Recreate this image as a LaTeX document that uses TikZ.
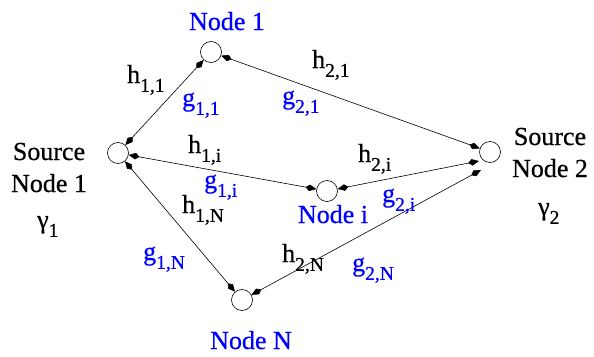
\documentclass[tikz,border=0pt]{standalone}
\usepackage{fontspec}
\setmainfont{Liberation Serif}[FakeBold=0.6]
\usetikzlibrary{arrows.meta}
\newcommand\lowsub[1]{\raisebox{-0.34em}{\fontsize{19.5}{20}\selectfont #1}}
\begin{document}
\begin{tikzpicture}[x=1pt,y=-1pt,
  font=\rmfamily\fontsize{26}{30}\selectfont,
  >={Kite[length=11pt,width=6.5pt,inset=4pt]},
  vert/.style={circle,draw,minimum size=21pt,inner sep=0pt,line width=0.6pt},
  link/.style={<->,line width=0.6pt},
  blab/.style={text=blue,inner sep=0pt,anchor=base west},
  klab/.style={inner sep=0pt,anchor=base west},
  ttl/.style={inner sep=0pt,anchor=base}]
\useasboundingbox (0,0) rectangle (594,356);
% vertices
\node[vert] (s1) at (118,153) {};
\node[vert] (n1) at (211,52) {};
\node[vert] (s2) at (490,152) {};
\node[vert] (ni) at (327,191) {};
\node[vert] (nn) at (242,300) {};
\coordinate (s2i) at (479,161);
\coordinate (s2n) at (481,170);
% connectors
\draw[link] (s1) -- (n1);
\draw[link] (n1) -- (s2);
\draw[link] (s1) -- (ni);
\draw[link] (ni) -- (s2i);
\draw[link] (s1) -- (nn);
\draw[link] (nn) -- (s2n);
% titles
\node[ttl,text=blue] (t1) at (227,30) {Node 1};
\node[ttl,text=blue] (ti) at (333,223) {Node i};
\node[ttl,text=blue] (tn) at (251,349) {Node N};
\node[ttl] (ts1a) at (49,160) {Source};
\node[ttl] (ts1b) at (49,192) {Node 1};
\node[klab] (g1) at (37,228) {γ\lowsub{1}};
\node[ttl] (ts2a) at (550,145) {Source};
\node[ttl] (ts2b) at (550,177) {Node 2};
\node[klab] (g2) at (538,215) {γ\lowsub{2}};
% h labels
\node[klab] (h11) at (127,83) {h\lowsub{1,1}};
\node[klab] (h21) at (312,68) {h\lowsub{2,1}};
\node[klab] (h1i) at (188,153) {h\lowsub{1,i}};
\node[klab] (h2i) at (358,162) {h\lowsub{2,i}};
\node[klab] (h1n) at (182,213) {h\lowsub{1,N}};
\node[klab] (h2n) at (282,262) {h\lowsub{2,N}};
% g labels
\node[blab] (g11) at (182,106) {g\lowsub{1,1}};
\node[blab] (g21) at (282,104) {g\lowsub{2,1}};
\node[blab] (g1i) at (204,188) {g\lowsub{1,i}};
\node[blab] (g2i) at (382,202) {g\lowsub{2,i}};
\node[blab] (g1n) at (143,260) {g\lowsub{1,N}};
\node[blab] (g2n) at (352,271) {g\lowsub{2,N}};
\end{tikzpicture}
\end{document}
